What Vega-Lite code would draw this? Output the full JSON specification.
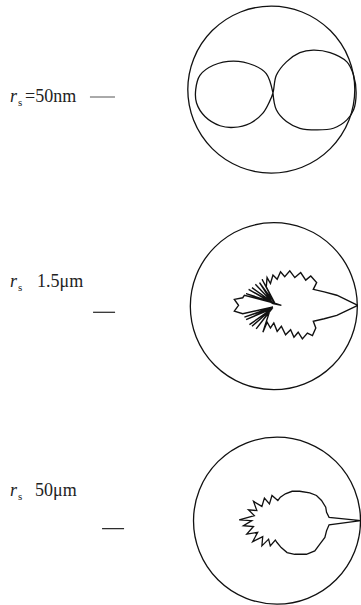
{
  "$schema": "https://vega.github.io/schema/vega-lite/v6.json",
  "background": "white",
  "padding": 0,
  "spacing": 0,
  "bounds": "flush",
  "config": {"view": {"stroke": null}},
  "datasets": {
    "outline": [
      {"panel":1,"i":1,"x":0,"y":0},{"panel":1,"i":2,"x":-0.08,"y":0.23},{"panel":1,"i":3,"x":-0.23,"y":0.33},{"panel":1,"i":4,"x":-0.47,"y":0.38},{"panel":1,"i":5,"x":-0.71,"y":0.33},{"panel":1,"i":6,"x":-0.87,"y":0.21},{"panel":1,"i":7,"x":-0.92,"y":0.04},{"panel":1,"i":8,"x":-0.91,"y":-0.12},{"panel":1,"i":9,"x":-0.81,"y":-0.28},{"panel":1,"i":10,"x":-0.63,"y":-0.39},{"panel":1,"i":11,"x":-0.47,"y":-0.41},{"panel":1,"i":12,"x":-0.27,"y":-0.36},{"panel":1,"i":13,"x":-0.12,"y":-0.24},{"panel":1,"i":14,"x":-0.04,"y":-0.1},{"panel":1,"i":15,"x":0,"y":0},{"panel":1,"i":16,"x":0.04,"y":0.21},{"panel":1,"i":17,"x":0.16,"y":0.37},{"panel":1,"i":18,"x":0.32,"y":0.48},{"panel":1,"i":19,"x":0.48,"y":0.51},{"panel":1,"i":20,"x":0.68,"y":0.48},{"panel":1,"i":21,"x":0.88,"y":0.37},{"panel":1,"i":22,"x":0.96,"y":0.21},{"panel":1,"i":23,"x":0.99,"y":0},{"panel":1,"i":24,"x":0.96,"y":-0.2},{"panel":1,"i":25,"x":0.88,"y":-0.32},{"panel":1,"i":26,"x":0.72,"y":-0.42},{"panel":1,"i":27,"x":0.52,"y":-0.44},{"panel":1,"i":28,"x":0.32,"y":-0.42},{"panel":1,"i":29,"x":0.16,"y":-0.34},{"panel":1,"i":30,"x":0.04,"y":-0.2},{"panel":1,"i":31,"x":0,"y":0},

      {"panel":2,"i":1,"x":0.95,"y":0},{"panel":2,"i":2,"x":0.7,"y":0.12},{"panel":2,"i":3,"x":0.55,"y":0.16},{"panel":2,"i":4,"x":0.42,"y":0.19},{"panel":2,"i":5,"x":0.46,"y":0.27},{"panel":2,"i":6,"x":0.39,"y":0.35},{"panel":2,"i":7,"x":0.33,"y":0.3},{"panel":2,"i":8,"x":0.27,"y":0.39},{"panel":2,"i":9,"x":0.2,"y":0.33},{"panel":2,"i":10,"x":0.14,"y":0.41},{"panel":2,"i":11,"x":0.08,"y":0.34},{"panel":2,"i":12,"x":0.03,"y":0.4},{"panel":2,"i":13,"x":-0.01,"y":0.31},{"panel":2,"i":14,"x":-0.06,"y":0.36},{"panel":2,"i":15,"x":-0.09,"y":0.26},{"panel":2,"i":16,"x":-0.13,"y":0.33},{"panel":2,"i":17,"x":-0.14,"y":0.22},{"panel":2,"i":18,"x":-0.04,"y":0.03},{"panel":2,"i":19,"x":-0.19,"y":0.31},{"panel":2,"i":20,"x":-0.05,"y":0.04},{"panel":2,"i":21,"x":-0.22,"y":0.27},{"panel":2,"i":22,"x":-0.08,"y":0.05},{"panel":2,"i":23,"x":-0.27,"y":0.25},{"panel":2,"i":24,"x":-0.07,"y":0.04},{"panel":2,"i":25,"x":-0.31,"y":0.21},{"panel":2,"i":26,"x":-0.06,"y":0.03},{"panel":2,"i":27,"x":-0.35,"y":0.19},{"panel":2,"i":28,"x":-0.06,"y":0.02},{"panel":2,"i":29,"x":0.04,"y":0},{"panel":2,"i":30,"x":-0.38,"y":0.14},{"panel":2,"i":31,"x":-0.06,"y":0.03},{"panel":2,"i":32,"x":-0.4,"y":0.12},{"panel":2,"i":33,"x":-0.42,"y":0.09},{"panel":2,"i":34,"x":-0.52,"y":0.07},{"panel":2,"i":35,"x":-0.47,"y":0},{"panel":2,"i":36,"x":-0.52,"y":-0.07},{"panel":2,"i":37,"x":-0.42,"y":-0.1},{"panel":2,"i":38,"x":-0.06,"y":-0.02},{"panel":2,"i":39,"x":-0.4,"y":-0.14},{"panel":2,"i":40,"x":-0.06,"y":-0.03},{"panel":2,"i":41,"x":-0.38,"y":-0.17},{"panel":2,"i":42,"x":-0.07,"y":-0.04},{"panel":2,"i":43,"x":-0.34,"y":-0.23},{"panel":2,"i":44,"x":-0.07,"y":-0.04},{"panel":2,"i":45,"x":-0.31,"y":-0.25},{"panel":2,"i":46,"x":-0.08,"y":-0.05},{"panel":2,"i":47,"x":-0.26,"y":-0.28},{"panel":2,"i":48,"x":-0.1,"y":-0.07},{"panel":2,"i":49,"x":-0.18,"y":-0.32},{"panel":2,"i":50,"x":-0.13,"y":-0.2},{"panel":2,"i":51,"x":-0.09,"y":-0.27},{"panel":2,"i":52,"x":-0.05,"y":-0.21},{"panel":2,"i":53,"x":-0.01,"y":-0.31},{"panel":2,"i":54,"x":0.04,"y":-0.25},{"panel":2,"i":55,"x":0.09,"y":-0.35},{"panel":2,"i":56,"x":0.15,"y":-0.29},{"panel":2,"i":57,"x":0.19,"y":-0.38},{"panel":2,"i":58,"x":0.24,"y":-0.32},{"panel":2,"i":59,"x":0.29,"y":-0.4},{"panel":2,"i":60,"x":0.35,"y":-0.33},{"panel":2,"i":61,"x":0.41,"y":-0.36},{"panel":2,"i":62,"x":0.45,"y":-0.27},{"panel":2,"i":63,"x":0.42,"y":-0.19},{"panel":2,"i":64,"x":0.55,"y":-0.16},{"panel":2,"i":65,"x":0.7,"y":-0.12},{"panel":2,"i":66,"x":0.95,"y":0},

      {"panel":3,"i":1,"x":1.0,"y":0},{"panel":3,"i":2,"x":0.62,"y":0.04},{"panel":3,"i":3,"x":0.59,"y":0.1},{"panel":3,"i":4,"x":0.58,"y":0.16},{"panel":3,"i":5,"x":0.53,"y":0.24},{"panel":3,"i":6,"x":0.47,"y":0.3},{"panel":3,"i":7,"x":0.39,"y":0.33},{"panel":3,"i":8,"x":0.27,"y":0.35},{"panel":3,"i":9,"x":0.18,"y":0.35},{"panel":3,"i":10,"x":0.1,"y":0.32},{"panel":3,"i":11,"x":0.04,"y":0.28},{"panel":3,"i":12,"x":0.01,"y":0.24},{"panel":3,"i":13,"x":-0.06,"y":0.3},{"panel":3,"i":14,"x":-0.09,"y":0.2},{"panel":3,"i":15,"x":-0.15,"y":0.27},{"panel":3,"i":16,"x":-0.18,"y":0.17},{"panel":3,"i":17,"x":-0.28,"y":0.23},{"panel":3,"i":18,"x":-0.24,"y":0.12},{"panel":3,"i":19,"x":-0.34,"y":0.13},{"panel":3,"i":20,"x":-0.27,"y":0.06},{"panel":3,"i":21,"x":-0.45,"y":0.01},{"panel":3,"i":22,"x":-0.3,"y":0},{"panel":3,"i":23,"x":-0.4,"y":-0.06},{"panel":3,"i":24,"x":-0.28,"y":-0.07},{"panel":3,"i":25,"x":-0.36,"y":-0.16},{"panel":3,"i":26,"x":-0.23,"y":-0.14},{"panel":3,"i":27,"x":-0.29,"y":-0.25},{"panel":3,"i":28,"x":-0.17,"y":-0.19},{"panel":3,"i":29,"x":-0.18,"y":-0.3},{"panel":3,"i":30,"x":-0.1,"y":-0.22},{"panel":3,"i":31,"x":-0.08,"y":-0.3},{"panel":3,"i":32,"x":-0.02,"y":-0.23},{"panel":3,"i":33,"x":0,"y":-0.26},{"panel":3,"i":34,"x":0.05,"y":-0.32},{"panel":3,"i":35,"x":0.12,"y":-0.38},{"panel":3,"i":36,"x":0.21,"y":-0.4},{"panel":3,"i":37,"x":0.35,"y":-0.4},{"panel":3,"i":38,"x":0.45,"y":-0.36},{"panel":3,"i":39,"x":0.51,"y":-0.28},{"panel":3,"i":40,"x":0.57,"y":-0.2},{"panel":3,"i":41,"x":0.59,"y":-0.12},{"panel":3,"i":42,"x":0.62,"y":-0.05},{"panel":3,"i":43,"x":1.0,"y":0}
    ],
    "rings": [
      {"panel":1,"x":-0.02,"y":0.04},
      {"panel":2,"x":-0.05,"y":-0.01},
      {"panel":3,"x":0,"y":0}
    ],
    "labels": [
      {"panel":1,"x":-3.131,"y":-0.107,"sym":"r","sub":"s","rest":"=50nm"},
      {"panel":2,"x":-3.19,"y":0.214,"sym":"r","sub":"s","rest":"1.5\u03bcm"},
      {"panel":3,"x":-3.179,"y":0.298,"sym":"r","sub":"s","rest":"50\u03bcm"}
    ],
    "ticks": [
      {"panel":1,"x":-2.179,"x2":-1.881,"y":-0.048},
      {"panel":2,"x":-2.202,"x2":-1.94,"y":-0.083},
      {"panel":3,"x":-2.083,"x2":-1.821,"y":-0.095}
    ]
  },
  "vconcat": [
    {
      "width": 361, "height": 201.67,
      "encoding": {
        "x": {"field":"x","type":"quantitative","axis":null,"scale":{"domain":[-3.25,1.048],"nice":false,"zero":false}},
        "y": {"field":"y","type":"quantitative","axis":null,"scale":{"domain":[-1.294,1.107],"nice":false,"zero":false}}
      },
      "layer": [
        {"data":{"name":"rings"},"transform":[{"filter":"datum.panel==1"}],"mark":{"type":"point","shape":"circle","filled":false,"size":27889,"stroke":"#111","strokeWidth":1.3,"opacity":1}},
        {"data":{"name":"outline"},"transform":[{"filter":"datum.panel==1"}],"mark":{"type":"line","color":"#111","strokeWidth":1.3,"interpolate":"catmull-rom"},"encoding":{"order":{"field":"i","type":"quantitative"}}},
        {"data":{"name":"ticks"},"transform":[{"filter":"datum.panel==1"}],"mark":{"type":"rule","color":"#555","strokeWidth":1},"encoding":{"x2":{"field":"x2"}}},
        {"data":{"name":"labels"},"transform":[{"filter":"datum.panel==1"}],"mark":{"type":"text","align":"left","baseline":"alphabetic","font":"Liberation Serif","fontSize":18,"fontStyle":"italic","color":"#222"},"encoding":{"text":{"field":"sym"}}},
        {"data":{"name":"labels"},"transform":[{"filter":"datum.panel==1"}],"mark":{"type":"text","align":"left","baseline":"alphabetic","font":"Liberation Serif","fontSize":11,"dx":8,"dy":4,"color":"#222"},"encoding":{"text":{"field":"sub"}}},
        {"data":{"name":"labels"},"transform":[{"filter":"datum.panel==1"}],"mark":{"type":"text","align":"left","baseline":"alphabetic","font":"Liberation Serif","fontSize":18,"dx":15,"color":"#222"},"encoding":{"text":{"field":"rest"}}}
      ]
    },
    {
      "width": 361, "height": 201.67,
      "encoding": {
        "x": {"field":"x","type":"quantitative","axis":null,"scale":{"domain":[-3.31,0.988],"nice":false,"zero":false}},
        "y": {"field":"y","type":"quantitative","axis":null,"scale":{"domain":[-1.171,1.23],"nice":false,"zero":false}}
      },
      "layer": [
        {"data":{"name":"rings"},"transform":[{"filter":"datum.panel==2"}],"mark":{"type":"point","shape":"circle","filled":false,"size":27889,"stroke":"#111","strokeWidth":1.3,"opacity":1}},
        {"data":{"name":"outline"},"transform":[{"filter":"datum.panel==2"}],"mark":{"type":"line","color":"#111","strokeWidth":1.4},"encoding":{"order":{"field":"i","type":"quantitative"}}},
        {"data":{"name":"ticks"},"transform":[{"filter":"datum.panel==2"}],"mark":{"type":"rule","color":"#222","strokeWidth":1.2},"encoding":{"x2":{"field":"x2"}}},
        {"data":{"name":"labels"},"transform":[{"filter":"datum.panel==2"}],"mark":{"type":"text","align":"left","baseline":"alphabetic","font":"Liberation Serif","fontSize":18,"fontStyle":"italic","color":"#222"},"encoding":{"text":{"field":"sym"}}},
        {"data":{"name":"labels"},"transform":[{"filter":"datum.panel==2"}],"mark":{"type":"text","align":"left","baseline":"alphabetic","font":"Liberation Serif","fontSize":11,"dx":8,"dy":4,"color":"#222"},"encoding":{"text":{"field":"sub"}}},
        {"data":{"name":"labels"},"transform":[{"filter":"datum.panel==2"}],"mark":{"type":"text","align":"left","baseline":"alphabetic","font":"Liberation Serif","fontSize":18,"dx":27,"color":"#222"},"encoding":{"text":{"field":"rest"}}}
      ]
    },
    {
      "width": 361, "height": 201.67,
      "encoding": {
        "x": {"field":"x","type":"quantitative","axis":null,"scale":{"domain":[-3.298,1.0],"nice":false,"zero":false}},
        "y": {"field":"y","type":"quantitative","axis":null,"scale":{"domain":[-1.012,1.389],"nice":false,"zero":false}}
      },
      "layer": [
        {"data":{"name":"rings"},"transform":[{"filter":"datum.panel==3"}],"mark":{"type":"point","shape":"circle","filled":false,"size":27889,"stroke":"#111","strokeWidth":1.3,"opacity":1}},
        {"data":{"name":"outline"},"transform":[{"filter":"datum.panel==3"}],"mark":{"type":"line","color":"#111","strokeWidth":1.3},"encoding":{"order":{"field":"i","type":"quantitative"}}},
        {"data":{"name":"ticks"},"transform":[{"filter":"datum.panel==3"}],"mark":{"type":"rule","color":"#222","strokeWidth":1.2},"encoding":{"x2":{"field":"x2"}}},
        {"data":{"name":"labels"},"transform":[{"filter":"datum.panel==3"}],"mark":{"type":"text","align":"left","baseline":"alphabetic","font":"Liberation Serif","fontSize":18,"fontStyle":"italic","color":"#222"},"encoding":{"text":{"field":"sym"}}},
        {"data":{"name":"labels"},"transform":[{"filter":"datum.panel==3"}],"mark":{"type":"text","align":"left","baseline":"alphabetic","font":"Liberation Serif","fontSize":11,"dx":8,"dy":4,"color":"#222"},"encoding":{"text":{"field":"sub"}}},
        {"data":{"name":"labels"},"transform":[{"filter":"datum.panel==3"}],"mark":{"type":"text","align":"left","baseline":"alphabetic","font":"Liberation Serif","fontSize":18,"dx":25,"color":"#222"},"encoding":{"text":{"field":"rest"}}}
      ]
    }
  ]
}
